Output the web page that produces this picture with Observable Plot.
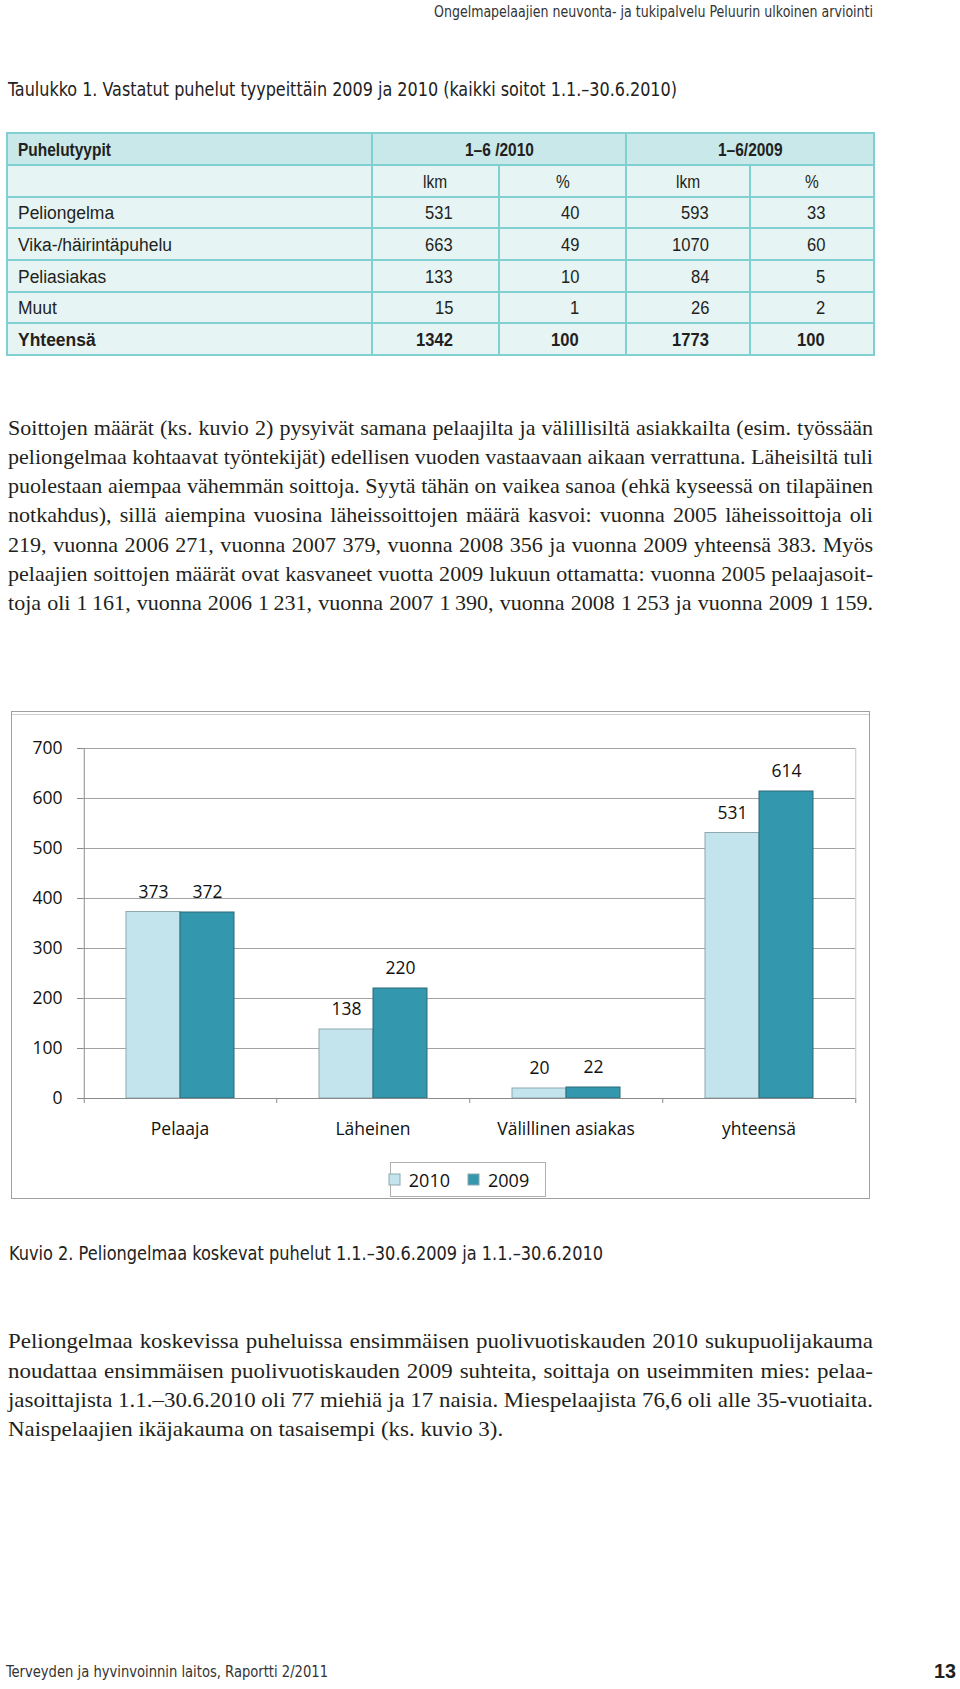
<!DOCTYPE html>
<html><head><meta charset="utf-8">
<script src="https://cdn.jsdelivr.net/npm/d3@7"></script>
<script src="https://cdn.jsdelivr.net/npm/@observablehq/plot@0.6"></script>
<style>
html,body{margin:0;padding:0;background:#fff;}
body{width:960px;height:1689px;position:relative;overflow:hidden;color:#231f20;}
.t{position:absolute;white-space:nowrap;line-height:1;transform-origin:0 0;}
.box{position:absolute;box-sizing:border-box;}
</style>
</head><body>
<script>
// ---------- DATA ----------
const categories = ["Pelaaja", "Läheinen", "Välillinen asiakas", "yhteensä"];
const years = ["2010", "2009"];
const values2010 = [373, 138, 20, 531];
const values2009 = [372, 220, 22, 614];
const yTicks = [0, 100, 200, 300, 400, 500, 600, 700];

const tableTypes = ["Peliongelma", "Vika-/häirintäpuhelu", "Peliasiakas", "Muut", "Yhteensä"];
const lkm2010 = [531, 663, 133, 15, 1342];
const pct2010 = [40, 49, 10, 1, 100];
const lkm2009 = [593, 1070, 84, 26, 1773];
const pct2009 = [33, 60, 5, 2, 100];
const tableHead = ["Puhelutyypit", "1–6 /2010", "1–6/2009"];
const tableSub = ["lkm", "%", "lkm", "%"];

const headerText = "Ongelmapelaajien neuvonta- ja tukipalvelu Peluurin ulkoinen arviointi";
const tableTitle = "Taulukko 1. Vastatut puhelut tyypeittäin 2009 ja 2010 (kaikki soitot 1.1.–30.6.2010)";
const para1 = [
  "Soittojen määrät (ks. kuvio 2) pysyivät samana pelaajilta ja välillisiltä asiakkailta (esim. työssään",
  "peliongelmaa kohtaavat työntekijät) edellisen vuoden vastaavaan aikaan verrattuna. Läheisiltä tuli",
  "puolestaan aiempaa vähemmän soittoja. Syytä tähän on vaikea sanoa (ehkä kyseessä on tilapäinen",
  "notkahdus), sillä aiempina vuosina läheissoittojen määrä kasvoi: vuonna 2005 läheissoittoja oli",
  "219, vuonna 2006 271, vuonna 2007 379, vuonna 2008 356 ja vuonna 2009 yhteensä 383. Myös",
  "pelaajien soittojen määrät ovat kasvaneet vuotta 2009 lukuun ottamatta: vuonna 2005 pelaajasoit-",
  "toja oli 1\u2009161, vuonna 2006 1\u2009231, vuonna 2007 1\u2009390, vuonna 2008 1\u2009253 ja vuonna 2009 1\u2009159."
];
const figCaption = "Kuvio 2. Peliongelmaa koskevat puhelut 1.1.–30.6.2009 ja 1.1.–30.6.2010";
const para2 = [
  "Peliongelmaa koskevissa puheluissa ensimmäisen puolivuotiskauden 2010 sukupuolijakauma",
  "noudattaa ensimmäisen puolivuotiskauden 2009 suhteita, soittaja on useimmiten mies: pelaa-",
  "jasoittajista 1.1.–30.6.2010 oli 77 miehiä ja 17 naisia. Miespelaajista 76,6 oli alle 35-vuotiaita.",
  "Naispelaajien ikäjakauma on tasaisempi (ks. kuvio 3)."
];
const footerText = "Terveyden ja hyvinvoinnin laitos, Raportti 2/2011";
const pageNumber = "13";

// ---------- helpers ----------
const COND = '"Liberation Sans Narrow","DejaVu Sans Condensed","Roboto Condensed","Liberation Sans",sans-serif';
const SANS = '"Liberation Sans","Arial",sans-serif';
const SERIF = '"Liberation Serif","DejaVu Serif",serif';

function makeText(str, o) {
  const el = document.createElement("div");
  el.className = "t";
  el.style.font = `${o.weight || 400} ${o.size}px ${o.family}`;
  el.style.color = o.color || "#231f20";
  el.textContent = str;
  const probe = document.createElement("span");
  probe.style.cssText = "display:inline-block;width:0;height:0;vertical-align:baseline;";
  el.appendChild(probe);
  document.body.appendChild(el);
  const w = el.getBoundingClientRect().width;
  const base = probe.offsetTop;
  return {el, w, base};
}
function place(str, o) {
  const {el, w, base} = makeText(str, o);
  let sx = o.sx || 1;
  if (o.width != null) sx = o.width / w;
  const sw = w * sx;
  let left = o.x;
  if (o.anchor === "end") left = o.x - sw;
  else if (o.anchor === "middle") left = o.x - sw / 2;
  el.style.left = left + "px";
  el.style.top = (o.baseline - base) + "px";
  el.style.transform = `scaleX(${sx})`;
  return el;
}
function paragraph(lines, o) {
  const items = lines.map((s, i) => ({s, ...makeText(s, o), b: o.baselines[i]}));
  const isLast = i => o.lastNatural && i === items.length - 1;
  const sx = Math.min(...items.filter((d, i) => !isLast(i)).map(d => o.width / d.w));
  items.forEach((d, i) => {
    d.el.style.left = o.x + "px";
    d.el.style.top = (d.b - d.base) + "px";
    d.el.style.transform = `scaleX(${sx})`;
    if (!isLast(i)) {
      const n = (d.s.match(/ /g) || []).length;
      if (n) d.el.style.wordSpacing = ((o.width / sx - d.w) / n) + "px";
    }
  });
}
function box(x, y, w, h, css) {
  const d = document.createElement("div");
  d.className = "box";
  d.style.left = x + "px"; d.style.top = y + "px";
  d.style.width = w + "px"; d.style.height = h + "px";
  d.style.cssText += css;
  document.body.appendChild(d);
  return d;
}

// ---------- page header & title ----------
place(headerText, {x: 873, anchor: "end", baseline: 17, size: 15.5, family: COND, width: 439, color: "#333"});
place(tableTitle, {x: 8, baseline: 95.5, size: 19.5, family: COND, width: 669, color: "#222"});

// ---------- table ----------
const rowY = [133, 165, 197, 228, 260, 292, 323, 355];
const colX = [7, 372, 499, 626, 750, 874];
const lineCol = "#80cfd1";
box(colX[0], rowY[0], colX[5] - colX[0], rowY[1] - rowY[0], "background:#c8e8ea;");
box(colX[0], rowY[1], colX[5] - colX[0], rowY[7] - rowY[1], "background:#e6f4f4;");
rowY.forEach(y => box(colX[0] - 1, y - 1, colX[5] - colX[0] + 2, 2, `background:${lineCol};`));
[0, 1, 3, 5].forEach(c => box(colX[c] - 1, rowY[0] - 1, 2, rowY[7] - rowY[0] + 2, `background:${lineCol};`));
[2, 4].forEach(c => box(colX[c] - 1, rowY[1], 2, rowY[7] - rowY[1], `background:${lineCol};`));

const tSize = 18;
const baseOf = r => (rowY[r] + rowY[r + 1]) / 2 + 6.5;
place(tableHead[0], {x: 18, baseline: baseOf(0), size: tSize, weight: 700, family: SANS, sx: 0.86});
place(tableHead[1], {x: (colX[1] + colX[3]) / 2, anchor: "middle", baseline: baseOf(0), size: tSize, weight: 700, family: SANS, sx: 0.86});
place(tableHead[2], {x: (colX[3] + colX[5]) / 2, anchor: "middle", baseline: baseOf(0), size: tSize, weight: 700, family: SANS, sx: 0.86});
tableSub.forEach((s, i) => place(s, {x: (colX[i + 1] + colX[i + 2]) / 2, anchor: "middle", baseline: baseOf(1), size: tSize, family: SANS, sx: 0.86}));
const numRight = [453, 579, 709, 825];
tableTypes.forEach((name, i) => {
  const r = i + 2;
  const bold = i === tableTypes.length - 1 ? 700 : 400;
  place(name, {x: 18, baseline: baseOf(r), size: tSize, weight: bold, family: SANS, sx: 0.97});
  [lkm2010[i], pct2010[i], lkm2009[i], pct2009[i]].forEach((v, j) =>
    place(String(v), {x: numRight[j], anchor: "end", baseline: baseOf(r), size: tSize, weight: bold, family: SANS, sx: 0.92}));
});

// ---------- paragraph 1 ----------
paragraph(para1, {x: 8, width: 865, baselines: [435, 464, 493, 522, 552, 581, 610], size: 22, family: SERIF});

// ---------- chart ----------
box(11, 711, 859, 488, "border:1px solid #a0a0a0;box-shadow:inset 0 2px 0 #fff, inset 0 3px 0 #cfcfcf;");
const rows = [];
categories.forEach((c, i) => {
  rows.push({cat: c, year: years[0], value: values2010[i]});
  rows.push({cat: c, year: years[1], value: values2009[i]});
});
const off = 69.25;
const barColors = ["#c3e4ec", "#3397ae"];
const chart = Plot.plot({
  width: 859, height: 488,
  marginLeft: 71, marginRight: 14, marginTop: 37, marginBottom: 101,
  style: {fontFamily: '"Open Sans", sans-serif', fontSize: "17.5px", color: "#111", background: "transparent", overflow: "visible"},
  fx: {domain: categories, padding: 0, label: null},
  x: {domain: years, paddingInner: 0, paddingOuter: 0.76, axis: null},
  y: {domain: [0, 700], label: null},
  color: {domain: years, range: barColors},
  marks: [
    Plot.ruleY(yTicks.filter(d => d > 0), {stroke: "#a3a3a3", strokeWidth: 1.2}),
    Plot.barY(rows.filter(d => d.year === years[0]), {fx: "cat", x: "year", y: "value", fill: "year", stroke: "#8ea8ae", strokeWidth: 1}),
    Plot.barY(rows.filter(d => d.year === years[1]), {fx: "cat", x: "year", y: "value", fill: "year", stroke: "#2b6877", strokeWidth: 1}),
    Plot.ruleY([0], {stroke: "#8a8a8a", strokeWidth: 1.2}),
    Plot.text(rows, {fx: "cat", x: "year", y: "value", text: d => String(d.value), dy: -20, fill: "#111"}),
    Plot.axisY({ticks: yTicks, tickSize: 6, tickPadding: 15, tickFormat: d => String(d), stroke: "#8a8a8a", anchor: "left", label: null}),
    Plot.axisFx({anchor: "bottom", tickSize: 0, tickPadding: 24, label: null}),
    Plot.ruleX(categories, {fx: d => d, x: () => years[1], dx: off, y1: 0, y2: -10, stroke: "#8a8a8a"}),
    Plot.ruleX(categories.slice(0, 1), {fx: d => d, x: () => years[0], dx: -off, y1: -10, y2: 700, stroke: "#8a8a8a"}),
    Plot.ruleX(categories.slice(-1), {fx: d => d, x: () => years[1], dx: off, y1: 0, y2: 700, stroke: "#c4c4c4"})
  ]
});
chart.style.position = "absolute";
chart.style.left = "11px";
chart.style.top = "711px";
document.body.appendChild(chart);

// legend
const legWrap = box(390, 1162, 156, 35, "border:1px solid #b0b0b0;background:#fff;");
const legend = Plot.legend({
  color: {domain: years, range: barColors},
  legend: "swatches", swatchSize: 11,
  style: {fontFamily: '"Open Sans", sans-serif', fontSize: "18px", color: "#111"}
});
legend.style.cssText += "display:flex;flex-wrap:nowrap;align-items:center;justify-content:center;width:100%;height:100%;margin:0;gap:0;";
legend.querySelectorAll("svg rect").forEach(r => { r.setAttribute("stroke", "#8ea8ae"); r.setAttribute("stroke-width", "1"); });
legWrap.appendChild(legend);

// ---------- caption ----------
place(figCaption, {x: 9, baseline: 1259.5, size: 19.5, family: COND, width: 594, color: "#222"});

// ---------- paragraph 2 ----------
paragraph(para2, {x: 8, width: 865, baselines: [1348, 1378, 1407, 1436], size: 22, family: SERIF, lastNatural: true});

// ---------- footer ----------
place(footerText, {x: 6, baseline: 1677, size: 16.5, family: COND, width: 322, color: "#333"});
place(pageNumber, {x: 956, anchor: "end", baseline: 1678, size: 21, weight: 700, family: SANS, width: 22});
</script>
</body></html>
